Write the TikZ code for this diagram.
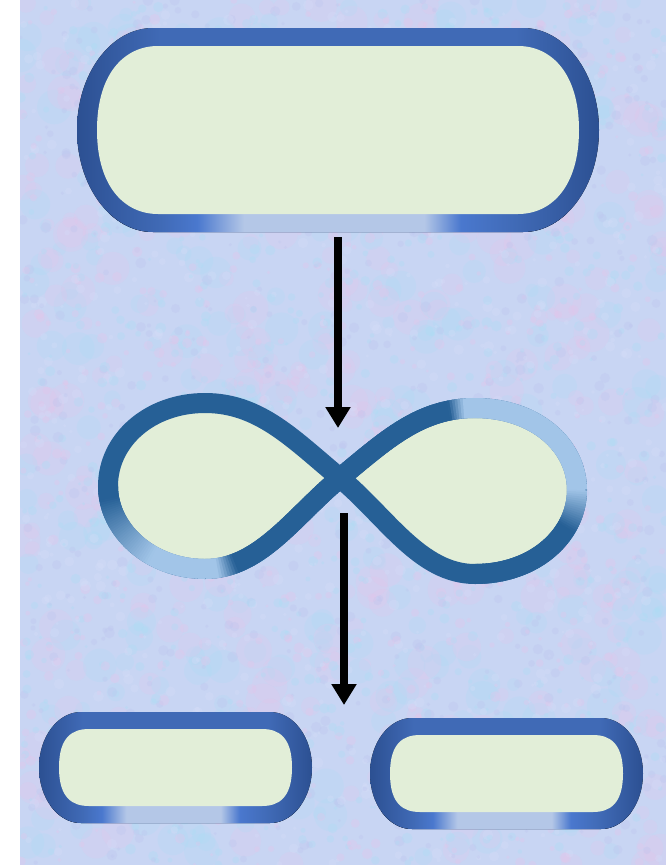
\documentclass[tikz,border=0pt]{standalone}
\usetikzlibrary{arrows.meta}
\definecolor{bgc}{RGB}{200,213,243}
\definecolor{tex0}{RGB}{230,196,234}
\definecolor{tex1}{RGB}{170,222,246}
\definecolor{tex2}{RGB}{214,222,249}
\definecolor{tex3}{RGB}{188,196,238}
\definecolor{capfill}{RGB}{226,238,216}
\definecolor{bdark}{RGB}{44,80,146}
\definecolor{bmid}{RGB}{64,106,182}
\definecolor{bbright}{RGB}{74,120,206}
\definecolor{blight}{RGB}{180,199,231}
\definecolor{infc}{RGB}{38,96,150}
\definecolor{infl}{RGB}{162,197,232}

\pgfdeclarehorizontalshading{capborder}{100bp}{color(0bp)=(bdark); color(25bp)=(bdark); color(33bp)=(bmid); color(67bp)=(bmid); color(75bp)=(bdark); color(100bp)=(bdark)}
\pgfdeclarehorizontalshading{caphl}{100bp}{color(0bp)=(bdark); color(25bp)=(bdark); color(33bp)=(bmid); color(36.5bp)=(bbright); color(41bp)=(blight); color(58.25bp)=(blight); color(61.75bp)=(bbright); color(67bp)=(bmid); color(75bp)=(bdark); color(100bp)=(bdark)}

% stadium with half-elliptical ends: x1,y1,x2,y2, horizontal radius of ends
\newcommand\stad[5]{({#1+#5},#2) -- ({#3-#5},#2)
  .. controls ({#3-#5+0.5523*#5},#2) and (#3,{(#2+#4)/2-0.5523*(#4-#2)/2}) .. (#3,{(#2+#4)/2})
  .. controls (#3,{(#2+#4)/2+0.5523*(#4-#2)/2}) and ({#3-#5+0.5523*#5},#4) .. ({#3-#5},#4)
  -- ({#1+#5},#4)
  .. controls ({#1+#5-0.5523*#5},#4) and (#1,{(#2+#4)/2+0.5523*(#4-#2)/2}) .. (#1,{(#2+#4)/2})
  .. controls (#1,{(#2+#4)/2-0.5523*(#4-#2)/2}) and ({#1+#5-0.5523*#5},#2) .. ({#1+#5},#2) -- cycle}

% outer x1,y1,x2,y2, outer end radius, thickness x, thickness y, inner end radius
\newcommand\capsuleshape[8]{%
  \fill[shading=capborder] \stad{#1}{#2}{#3}{#4}{#5};
  \begin{scope}
    \clip \stad{#1}{#2}{#3}{#4}{#5};
    \fill[shading=caphl] (#1,{#4-#7-1}) rectangle (#3,#4);
  \end{scope}
  \fill[capfill] \stad{#1+#6}{#2+#7}{#3-#6}{#4-#7}{#8};
}

% cubic bezier P0..P3 drawn in small pieces; #9 = colour fraction (0..100) as function of \t
\newcommand\gradbez[9]{%
  \foreach \k in {0,...,59}{%
    \pgfmathsetmacro\ta{max(0,(\k-0.3)/60)}%
    \pgfmathsetmacro\tb{min(1,(\k+1.3)/60)}%
    \pgfmathsetmacro\t{(\k+0.5)/60}%
    \pgfmathsetmacro\ua{1-\ta}%
    \pgfmathsetmacro\ub{1-\tb}%
    \pgfmathsetmacro\xa{\ua*\ua*\ua*#1+3*\ua*\ua*\ta*#3+3*\ua*\ta*\ta*#5+\ta*\ta*\ta*#7}%
    \pgfmathsetmacro\ya{\ua*\ua*\ua*#2+3*\ua*\ua*\ta*#4+3*\ua*\ta*\ta*#6+\ta*\ta*\ta*#8}%
    \pgfmathsetmacro\xb{\ub*\ub*\ub*#1+3*\ub*\ub*\tb*#3+3*\ub*\tb*\tb*#5+\tb*\tb*\tb*#7}%
    \pgfmathsetmacro\yb{\ub*\ub*\ub*#2+3*\ub*\ub*\tb*#4+3*\ub*\tb*\tb*#6+\tb*\tb*\tb*#8}%
    \pgfmathsetmacro\fr{min(100,max(0,#9))}%
    \draw[line width=20pt, infl!\fr!infc] (\xa,\ya) -- (\xb,\yb);
  }%
}

\tikzset{
  flowarrow/.style={line width=8pt, black, -{Triangle[width=24pt,length=21pt]}},
  infline/.style={infc, line width=20pt, fill=capfill}
}

\begin{document}
\begin{tikzpicture}[x=1pt,y=-1pt]
\useasboundingbox (0,0) rectangle (666,865);
\fill[white] (0,0) rectangle (666,865);
\fill[bgc] (20,0) rectangle (666,865);
\begin{scope}
  \clip (20,0) rectangle (666,865);
  \pgfmathsetseed{11}
  % large soft blotches
  \foreach \i in {1,...,700}{%
    \pgfmathsetmacro\px{20+646*rnd}%
    \pgfmathsetmacro\py{865*rnd}%
    \pgfmathsetmacro\pr{6+12*rnd}%
    \pgfmathtruncatemacro\pc{int(1.999*rnd)}%
    \fill[tex\pc, opacity=0.22] (\px,\py) circle (\pr pt);
  }
  % fine grain
  \foreach \i in {1,...,2600}{%
    \pgfmathsetmacro\px{20+646*rnd}%
    \pgfmathsetmacro\py{865*rnd}%
    \pgfmathsetmacro\pr{1.5+4*rnd}%
    \pgfmathtruncatemacro\pc{int(3.999*rnd)}%
    \fill[tex\pc, opacity=0.3] (\px,\py) circle (\pr pt);
  }
\end{scope}

% named positions
\coordinate (topcap) at (338,130);
\coordinate (inf) at (340,478);
\coordinate (leftcap) at (175.5,767.5);
\coordinate (rightcap) at (506.5,773.5);
\coordinate (a1s) at (338,237);
\coordinate (a1e) at (338,428);
\coordinate (a2s) at (344,513);
\coordinate (a2e) at (344,705);

% top capsule
\capsuleshape{77}{28}{599}{232}{76}{20}{18}{61}

% infinity
\draw[infline] (inf) .. controls (386,440) and (420,408) .. (475,408)
  .. controls (535,408) and (577,445) .. (577,490)
  .. controls (577,535) and (535,574) .. (475,574)
  .. controls (420,574) and (386,516) .. (inf)
  .. controls (294,440) and (260,403) .. (205,403)
  .. controls (150,403) and (108,440) .. (108,486)
  .. controls (108,530) and (150,569) .. (205,569)
  .. controls (260,569) and (294,516) .. (inf) -- cycle;
% highlights on the infinity band
\gradbez{108}{486}{108}{530}{150}{569}{205}{569}{(\t-0.1)/0.55*100}
\gradbez{205}{569}{260}{569}{294}{516}{340}{478}{(0.2-\t)/0.12*100}
\gradbez{340}{478}{386}{440}{420}{408}{475}{408}{(\t-0.84)/0.1*100}
\gradbez{475}{408}{535}{408}{577}{445}{577}{490}{100}
\gradbez{577}{490}{577}{535}{535}{574}{475}{574}{(1-\t/0.3)*100}

% bottom capsules
\capsuleshape{39}{712}{312}{823}{42}{20}{17}{30}
\capsuleshape{370}{718}{643}{829}{42}{20}{17}{30}

% arrows
\draw[flowarrow] (a1s) -- (a1e);
\draw[flowarrow] (a2s) -- (a2e);
\end{tikzpicture}
\end{document}
